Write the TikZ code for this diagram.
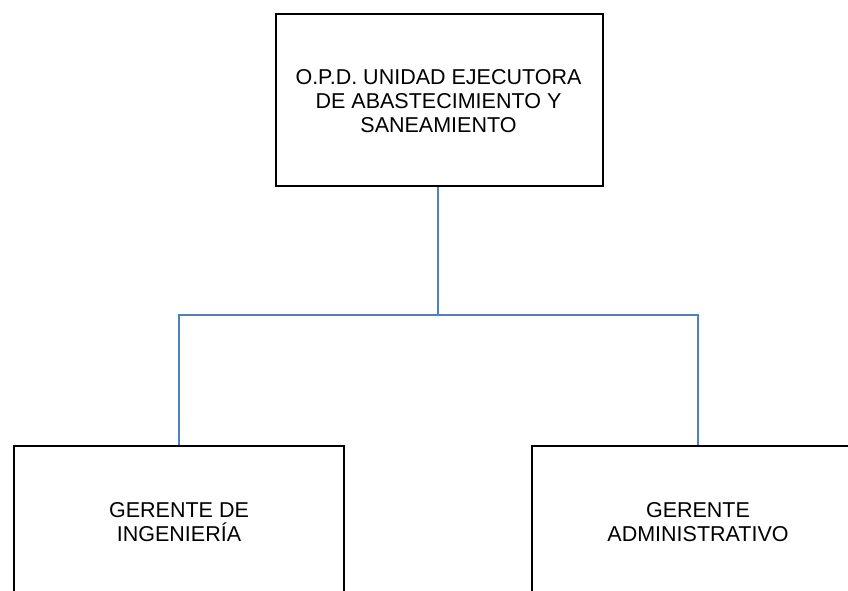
\documentclass[tikz,border=0pt]{standalone}
\usepackage{fontspec}
\setmainfont{Liberation Sans}
\definecolor{linkblue}{RGB}{79,129,189}
\begin{document}
\begin{tikzpicture}[x=1pt,y=-1pt,
  labeltext/.style={align=center,inner sep=0pt,font=\fontsize{21.5}{24}\selectfont},
  orgbox/.style={labeltext,draw=black,line width=2pt,rectangle},
  link/.style={draw=linkblue,line width=1.6pt}]
\useasboundingbox (0,0) rectangle (848,591);
\clip (0,0) rectangle (848,591);
\node[orgbox,minimum width=327pt,minimum height=172pt,anchor=north west] (top) at (275,13) {};
\node[labeltext] (toptxt) at (438.5,101) {O.P.D. UNIDAD EJECUTORA\\DE ABASTECIMIENTO Y\\SANEAMIENTO};
\node[orgbox,minimum width=330pt,minimum height=153pt,anchor=north west] (left) at (13,445) {GERENTE DE\\INGENIERÍA};
\node[orgbox,minimum width=332pt,minimum height=153pt,anchor=north west] (right) at (531,445) {GERENTE\\ADMINISTRATIVO};
\coordinate (mid) at (438,315);
\draw[link] (mid |- top.south) -- (mid);
\draw[link] (mid) -| (left.north);
\draw[link] (mid) -| (right.north);
\end{tikzpicture}
\end{document}
